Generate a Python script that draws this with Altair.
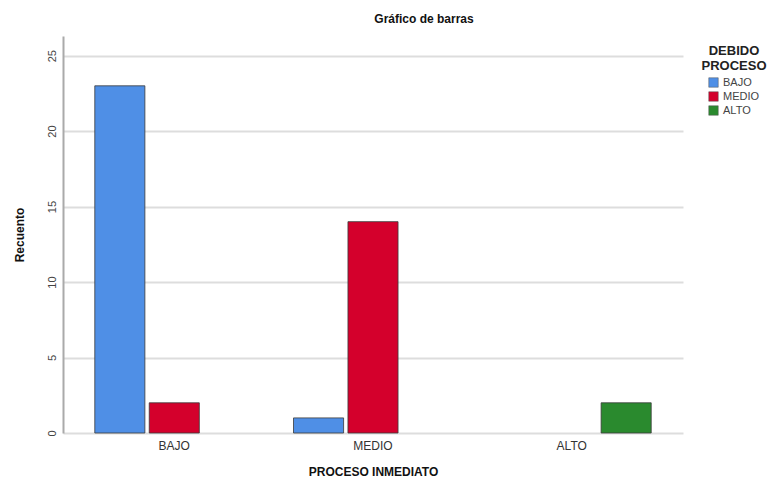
import altair as alt
import pandas as pd

proceso_inmediato = ["BAJO", "BAJO", "MEDIO", "MEDIO", "ALTO"]
debido_proceso = ["BAJO", "MEDIO", "BAJO", "MEDIO", "ALTO"]
recuento = [23, 2, 1, 14, 2]

cats = ["BAJO", "MEDIO", "ALTO"]
colors = ["#4f8fe6", "#d4002c", "#2a8a2e"]

df = pd.DataFrame({"pi": proceso_inmediato, "dp": debido_proceso, "n": recuento})

font = "Liberation Sans"

chart = alt.Chart(df).mark_bar(stroke="#3a3a3a", strokeWidth=1, strokeOpacity=0.8).encode(
    x=alt.X("pi:N", sort=cats, title="PROCESO INMEDIATO",
            scale=alt.Scale(domain=cats, paddingInner=0.2, paddingOuter=0.16),
            axis=alt.Axis(labelAngle=0, ticks=False, domain=False, labelFontSize=12,
                          labelColor="#333333", labelPadding=7, titlePadding=15,
                          titleFontSize=12, titleFontWeight="bold", titleColor="#111111")),
    xOffset=alt.XOffset("dp:N", sort=cats,
                        scale=alt.Scale(domain=cats, paddingInner=0.08, paddingOuter=0.0)),
    y=alt.Y("n:Q", title="Recuento",
            scale=alt.Scale(domain=[0, 26.3], nice=False),
            axis=alt.Axis(values=[0, 5, 10, 15, 20, 25], labelAngle=270, labelAlign="center",
                          labelBaseline="bottom", ticks=False, labelPadding=6,
                          labelFontSize=11, labelColor="#444444", domainColor="#aaaaaa",
                          domainWidth=2, gridColor="#dddddd", gridWidth=2,
                          titleFontSize=12, titleFontWeight="bold", titleColor="#111111",
                          titlePadding=20)),
    color=alt.Color("dp:N", sort=cats,
                    scale=alt.Scale(domain=cats, range=colors),
                    legend=alt.Legend(title=["DEBIDO", "PROCESO"], titleFontSize=13,
                                      titleFontWeight="bold", titleAlign="center",
                                      titleAnchor="middle", titleColor="#222222",
                                      titlePadding=4,
                                      labelFontSize=11, labelColor="#444444",
                                      symbolType="square", symbolSize=90,
                                      symbolStrokeColor="#555555", symbolStrokeWidth=0.5,
                                      rowPadding=1, orient="none", legendX=638,
                                      legendY=9, padding=0)),
).properties(
    width=620, height=397,
    padding={"left": 5, "top": 5, "right": 0, "bottom": 0},
    title=alt.TitleParams("Gráfico de barras", fontSize=12, fontWeight="bold",
                          color="#111111", dx=51, offset=10, font=font),
).configure(font=font).configure_view(stroke=None).configure_axisX(
    domain=True, domainColor="#aaaaaa", domainWidth=2
)

chart.save("out.html", embed_options={"renderer": "svg", "actions": False})
